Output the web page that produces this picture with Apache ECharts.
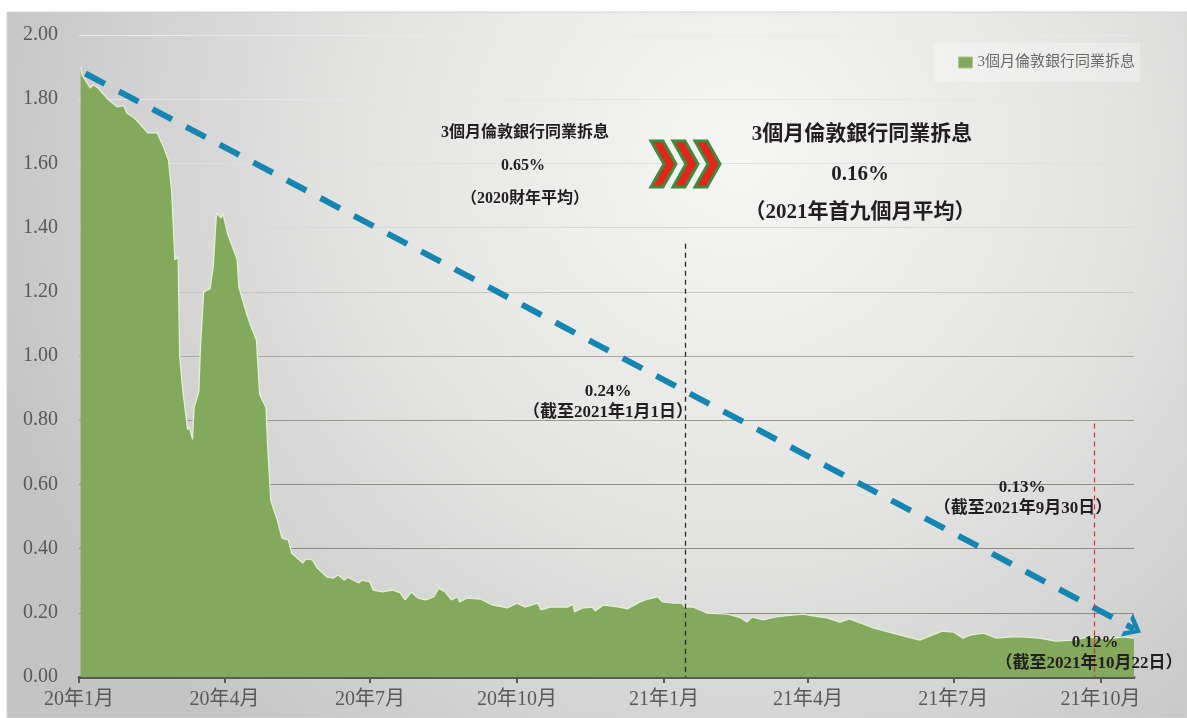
<!DOCTYPE html>
<html>
<head>
<meta charset="utf-8">
<script src="https://cdn.jsdelivr.net/npm/echarts@6/dist/echarts.min.js"></script>
<style>
  html, body { margin: 0; padding: 0; background: #fff; }
  #chart { width: 1187px; height: 718px; }
</style>
</head>
<body>
<div id="chart"></div>
<script>
// 3M LIBOR
const dates = [
  "2020-01-02","2020-01-03","2020-01-08","2020-01-10","2020-01-13","2020-01-19","2020-01-25","2020-01-29",
  "2020-01-31","2020-02-05","2020-02-13","2020-02-19","2020-02-23","2020-02-26","2020-02-28","2020-03-01",
  "2020-03-03","2020-03-04","2020-03-06","2020-03-09","2020-03-10","2020-03-12","2020-03-13","2020-03-16",
  "2020-03-17","2020-03-19","2020-03-23","2020-03-25","2020-03-27","2020-03-30","2020-03-31","2020-04-03",
  "2020-04-06","2020-04-09","2020-04-10","2020-04-15","2020-04-17","2020-04-21","2020-04-23","2020-04-27",
  "2020-04-28","2020-04-30","2020-05-04","2020-05-07","2020-05-11","2020-05-13","2020-05-20","2020-05-22",
  "2020-05-26","2020-05-29","2020-06-04","2020-06-08","2020-06-11","2020-06-15","2020-06-17","2020-06-24",
  "2020-06-26","2020-07-01","2020-07-03","2020-07-09","2020-07-15","2020-07-20","2020-07-23","2020-07-27",
  "2020-07-31","2020-08-05","2020-08-10","2020-08-13","2020-08-17","2020-08-21","2020-08-25","2020-08-26",
  "2020-08-31","2020-09-08","2020-09-16","2020-09-25","2020-10-01","2020-10-06","2020-10-14","2020-10-16",
  "2020-10-22","2020-11-02","2020-11-05","2020-11-06","2020-11-11","2020-11-17","2020-11-19","2020-11-24",
  "2020-12-04","2020-12-09","2020-12-17","2020-12-22","2020-12-28","2020-12-31","2021-01-07","2021-01-12",
  "2021-01-14","2021-01-19","2021-01-28","2021-02-10","2021-02-18","2021-02-22","2021-02-25","2021-03-04",
  "2021-03-12","2021-03-22","2021-03-29","2021-04-05","2021-04-13","2021-04-21","2021-04-27","2021-05-04",
  "2021-05-12","2021-05-24","2021-06-02","2021-06-10","2021-06-18","2021-06-24","2021-07-01","2021-07-07",
  "2021-07-12","2021-07-20","2021-07-28","2021-08-06","2021-08-13","2021-08-24","2021-09-03","2021-09-14",
  "2021-09-24","2021-10-05","2021-10-15","2021-10-22"
];
const rates = [
  1.90,1.875,1.835,1.845,1.835,1.80,1.776,1.78,
  1.757,1.74,1.695,1.695,1.65,1.61,1.51,1.30,
  1.31,1.00,0.89,0.77,0.78,0.74,0.84,0.89,
  1.03,1.20,1.21,1.28,1.445,1.43,1.445,1.38,
  1.34,1.30,1.215,1.13,1.10,1.05,0.88,0.84,
  0.72,0.55,0.49,0.433,0.427,0.386,0.355,0.368,
  0.365,0.34,0.312,0.308,0.318,0.302,0.311,0.293,
  0.302,0.296,0.271,0.265,0.271,0.262,0.24,0.265,
  0.246,0.24,0.25,0.277,0.265,0.24,0.25,0.234,
  0.246,0.243,0.224,0.215,0.23,0.218,0.23,0.209,
  0.218,0.218,0.227,0.203,0.215,0.218,0.206,0.224,
  0.218,0.212,0.234,0.243,0.25,0.234,0.23,0.23,
  0.218,0.218,0.199,0.196,0.184,0.171,0.187,0.178,
  0.187,0.193,0.196,0.19,0.184,0.171,0.181,0.168,
  0.153,0.137,0.125,0.115,0.131,0.143,0.14,0.121,
  0.131,0.137,0.121,0.125,0.125,0.121,0.112,0.115,
  0.125,0.118,0.125,0.121
];
const seriesName = "3個月倫敦銀行同業拆息";

const xTickDates = ["2020-01-01","2020-04-01","2020-07-01","2020-10-01","2021-01-01","2021-04-01","2021-07-01","2021-10-01"];
const xTickLabels = ["20年1月","20年4月","20年7月","20年10月","21年1月","21年4月","21年7月","21年10月"];
const xMin = "2020-01-01";
const xMax = "2021-10-22";

// trend arrow and marker lines, in data units
const trendStart = ["2020-01-05", 1.88];
const trendEnd = ["2021-10-22", 0.15];
const janMarker = ["2021-01-14", 1.35];
const sepMarker = ["2021-09-27", 0.79];

const FONT = '"Liberation Serif", "Noto Sans CJK TC", serif';
const ink = "#231f20";

const ts = (d) => echarts.time.parse(d).getTime();
const xTickValues = xTickDates.map(ts);

function tickLabel(val){
  for(let i = 0; i < xTickValues.length; i++){
    if(Math.abs(xTickValues[i] - val) < 43200000) return xTickLabels[i];
  }
  return "";
}

function note(text, x, y, size){
  return {
    type: "text",
    x, y,
    z: 100,
    silent: true,
    style: {
      text,
      font: `bold ${size}px ${FONT}`,
      fill: ink,
      align: "center",
      verticalAlign: "middle",
      textAlign: "center",
      textVerticalAlign: "middle"
    }
  };
}

function chevron(x0){
  const top = 141, bottom = 187, mid = 164;
  return {
    type: "polygon",
    silent: true,
    z: 100,
    shape: {
      points: [[x0, top], [x0 + 12, top], [x0 + 25, mid], [x0 + 12, bottom], [x0, bottom], [x0 + 13, mid]]
    },
    style: { fill: "#e1261c", stroke: "#3f8a3c", lineWidth: 3, lineJoin: "miter" }
  };
}

const chart = echarts.init(document.getElementById("chart"), null, { renderer: "canvas" });

const bgFill = new echarts.graphic.RadialGradient(0.62, 0.2, 1.1, [
  { offset: 0, color: "#f6f6f4" },
  { offset: 0.5, color: "#e3e3e2" },
  { offset: 1, color: "#c4c4c4" }
]);

chart.setOption({
  animation: false,
  backgroundColor: "#ffffff",
  grid: { left: 79, right: 53, top: 35, bottom: 41, containLabel: false, outerBoundsMode: "none" },
  legend: {
    right: 47,
    top: 43,
    icon: "rect",
    itemWidth: 14,
    itemHeight: 11,
    padding: [12, 5, 12, 24],
    backgroundColor: "rgba(255,255,255,0.3)",
    itemStyle: { color: "#82a95c", borderColor: "#a8c98a", borderWidth: 1 },
    textStyle: { color: "#6a6a6a", fontSize: 15, fontFamily: FONT },
    data: [seriesName]
  },
  xAxis: {
    type: "value",
    min: ts(xMin),
    max: ts(xMax),
    axisLine: { show: true, onZero: false, lineStyle: { color: "#5a5a5a", width: 3 } },
    axisTick: {
      show: true,
      length: 6,
      lineStyle: { color: "#5a5a5a", width: 2 },
      customValues: xTickValues
    },
    axisLabel: {
      customValues: xTickValues,
      color: "#595959",
      fontSize: 20,
      fontFamily: FONT,
      margin: 13,
      formatter: (val) => tickLabel(val)
    },
    splitLine: { show: false }
  },
  yAxis: {
    type: "value",
    min: 0,
    max: 2,
    interval: 0.2,
    axisLine: { show: false },
    axisTick: { show: false },
    axisLabel: {
      color: "#595959",
      fontSize: 20,
      fontFamily: FONT,
      margin: 21,
      formatter: (v) => v.toFixed(2)
    },
    splitLine: {
      show: true,
      lineStyle: {
        width: 1.2,
        color: ["#8a8685", "#8e8a88", "#8e8a88", "#908c8a", "#9a9795", "#aaa8a7", "#c6c5c4", "#d8d8d8", "#e0e0e0", "#e6e6e6", "#eaeaea"]
      }
    }
  },
  series: [
    {
      name: seriesName,
      type: "line",
      data: dates.map((d, i) => [ts(d), rates[i]]),
      showSymbol: false,
      symbol: "none",
      color: "#82a95c",
      lineStyle: { color: "#e4f0d6", width: 1.3 },
      areaStyle: { color: "#82a95c", opacity: 1 },
      markLine: {
        silent: true,
        animation: false,
        symbol: ["none", "none"],
        label: { show: false },
        emphasis: { disabled: true },
        data: [
          [
            { coord: [ts(trendStart[0]), trendStart[1]], symbol: "none", lineStyle: { color: "#1585b1", width: 6, type: [22, 16] } },
            { coord: [ts(trendEnd[0]), trendEnd[1]], symbol: "path://M0,14 L11,0 L22,14 L17,14 L11,6 L5,14 Z", symbolSize: [26, 16] }
          ],
          [
            { coord: [ts(janMarker[0]), janMarker[1]], lineStyle: { color: "#2a2a2a", width: 1.3, type: [5, 4] } },
            { coord: [ts(janMarker[0]), 0] }
          ],
          [
            { coord: [ts(sepMarker[0]), sepMarker[1]], lineStyle: { color: "#d9342b", width: 1.2, type: [5, 4] } },
            { coord: [ts(sepMarker[0]), 0] }
          ]
        ]
      }
    }
  ],
  graphic: [
    {
      type: "rect",
      z: -100,
      silent: true,
      shape: { x: 7, y: 12, width: 1180, height: 706 },
      style: { fill: bgFill, stroke: "#d2d2d2", lineWidth: 1 }
    },
    note("3個月倫敦銀行同業拆息", 525, 133, 16),
    note("0.65%", 523, 166, 16),
    note("（2020財年平均）", 525, 199, 16),
    chevron(651),
    chevron(673),
    chevron(695),
    note("3個月倫敦銀行同業拆息", 862, 135, 21),
    note("0.16%", 860, 175, 21),
    note("（2021年首九個月平均）", 860, 213, 21),
    note("0.24%", 608, 392, 17),
    note("（截至2021年1月1日）", 608, 413, 17),
    note("0.13%", 1022, 488, 17),
    note("（截至2021年9月30日）", 1023, 509, 17),
    note("0.12%", 1095, 643, 17),
    note("（截至2021年10月22日）", 1089, 664, 17)
  ]
});
</script>
</body>
</html>
